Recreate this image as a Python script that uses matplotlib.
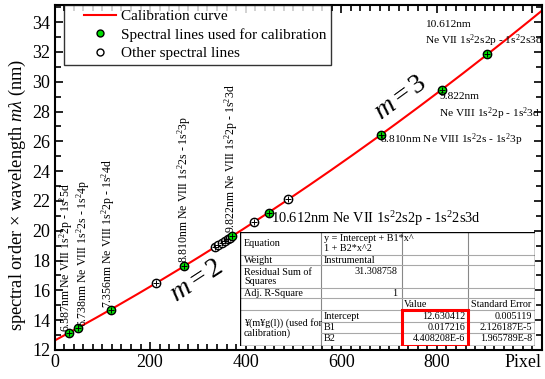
import numpy as np
import matplotlib
matplotlib.use("Agg")
import matplotlib.pyplot as plt
from matplotlib.lines import Line2D
from matplotlib.patches import Rectangle
from matplotlib.ticker import MultipleLocator
from matplotlib.legend_handler import HandlerLine2D
import matplotlib.transforms as mtransforms

plt.rcParams['font.family'] = ['Liberation Serif', 'DejaVu Serif']
plt.rcParams['mathtext.fontset'] = 'custom'
plt.rcParams['mathtext.rm'] = 'Liberation Serif'
plt.rcParams['mathtext.it'] = 'Liberation Serif:italic'

# ---------------- data ----------------
fit_intercept = 12.630412
fit_b1 = 0.017216
fit_b2 = 4.408208e-6

cal_x = [31.3, 48.5, 117.4, 271.0, 372.0, 447.8, 682.3, 809.9, 905.6]
cal_y = [13.174, 13.476, 14.712, 17.620, 19.644, 21.224, 26.430, 29.466, 31.836]

other_x = [212, 336, 343, 350, 356, 362, 367, 418, 489]
other_y = [16.48, 18.91, 19.05, 19.20, 19.32, 19.44, 19.54, 20.60, 22.10]

x_ticks = [0, 200, 400, 600, 800, 1000]
x_ticklabels = ['0', '200', '400', '600', '800', '']
x_axis_name = 'Pixel'
y_ticks = list(range(12, 35, 2))

vert_labels = [
    ("6.587nm Ne VIII 1s$^2$2p - 1s$^2$5d", 25.5, 13.23),
    ("6.738nm Ne VIII 1s$^2$2s - 1s$^2$4p", 59.5, 13.56),
    ("7.356nm Ne VIII 1s$^2$2p - 1s$^2$4d", 113, 14.82),
    ("8.810nm Ne VIII 1s$^2$2s - 1s$^2$3p", 271, 17.84),
    ("9.822nm Ne VIII 1s$^2$2p - 1s$^2$3d", 368.7, 19.85),
]
m2_label = ("10.612nm Ne VII 1s$^2$2s2p - 1s$^2$2s3d", 452, 20.83)
m3_labels = [
    ("8.810nm Ne VIII 1s$^2$2s - 1s$^2$3p", 680, 26.09),
    ("9.822nm\nNe VIII 1s$^2$2p - 1s$^2$3d", 805, 28.31),
    ("10.612nm\nNe VII 1s$^2$2s2p - 1s$^2$2s3d", 776, 33.17),
]

W, H = 545, 379
fig = plt.figure(figsize=(W / 100, H / 100), dpi=100)
L, R, T, B = 54.5, 542, 5, 350
ax = fig.add_axes([L / W, 1 - B / H, (R - L) / W, (B - T) / H])

xmax = 1020
ax.set_xlim(0, xmax)
ax.set_ylim(12, 35.15)

xc = np.linspace(0, xmax, 400)
yc = fit_intercept + fit_b1 * xc + fit_b2 * xc ** 2
ax.plot(xc, yc, color='#ff0000', lw=1.5, zorder=2)

ax.plot(other_x, other_y, 'o', ms=6, mfc='white', mec='black', mew=1.0, zorder=3)
ax.plot(other_x, other_y, '+', ms=5, color='black', mew=0.7, zorder=4)
ax.plot(cal_x, cal_y, 'o', ms=6, mfc='#00dd00', mec='black', mew=1.0, zorder=5)
ax.plot(cal_x, cal_y, '+', ms=5, color='black', mew=0.7, zorder=6)

for txt, x, y in vert_labels:
    ax.text(x, y, txt, rotation=90, ha='center', va='bottom', fontsize=8.5, zorder=7)
ax.text(m2_label[1], m2_label[2], m2_label[0], ha='left', va='center', fontsize=10.4, zorder=7)
for txt, x, y in m3_labels:
    ax.text(x, y, txt, ha='left', va='center', fontsize=8.2, linespacing=1.35, zorder=7)

ax.text(298, 16.6, r'$m = 2$', rotation=33, ha='center', va='center', fontsize=20)
ax.text(725, 28.9, r'$m = 3$', rotation=36, ha='center', va='center', fontsize=20)

ax.set_xticks(x_ticks)
ax.set_xticklabels(x_ticklabels)
ax.set_yticks(y_ticks)
ax.xaxis.set_minor_locator(MultipleLocator(20))
ax.yaxis.set_minor_locator(MultipleLocator(1))
ax.tick_params(which='both', direction='in', top=True, right=True, width=1.2, labelsize=13, pad=3)
ax.tick_params(which='major', length=6)
ax.tick_params(which='minor', length=4)
for s in ax.spines.values():
    s.set_linewidth(1.5)

trans = mtransforms.blended_transform_factory(ax.transAxes, ax.transAxes)
ax.text(0.998, -0.012, x_axis_name, transform=trans, ha='right', va='top', fontsize=13)

ax.set_ylabel(r'spectral order $\times$ wavelength $m\lambda$ (nm)', fontsize=13.2)
ax.yaxis.set_label_coords(-0.055, 0.45)


class ShiftedHandler(HandlerLine2D):
    def create_artists(self, legend, orig_handle, xdescent, ydescent, width, height, fontsize, trans):
        shift = width * 0.32
        return super().create_artists(legend, orig_handle, xdescent - shift, ydescent,
                                      width - shift, height, fontsize, trans)


handles = [
    Line2D([], [], color='#ff0000', lw=1.5),
    Line2D([], [], ls='none', marker='o', ms=5, mfc='#00dd00', mec='black', mew=1.0),
    Line2D([], [], ls='none', marker='o', ms=5, mfc='white', mec='black', mew=1.0),
]
labels = ['Calibration curve', 'Spectral lines used for calibration', 'Other spectral lines']
leg = ax.legend(handles, labels, loc='upper left', bbox_to_anchor=((64 - L) / (R - L), 1.0),
                fontsize=11, frameon=True, fancybox=False, edgecolor='black',
                borderaxespad=0, handlelength=3.1, handletextpad=0.3, labelspacing=0.3,
                borderpad=0.3, handler_map={Line2D: ShiftedHandler()})
leg.get_frame().set_linewidth(1.0)

# ---------------- table ----------------
tx0, tx1, ty0, ty1 = 240, 535, 231.7, 346
tab = fig.add_axes([tx0 / W, 1 - ty1 / H, (tx1 - tx0) / W, (ty1 - ty0) / H])
tab.set_xlim(tx0, tx1)
tab.set_ylim(ty1, ty0)
tab.axis('off')
tab.add_patch(Rectangle((tx0, ty0), tx1 - tx0, ty1 - ty0, facecolor='white', edgecolor='none', zorder=0))
gc = '#a8a8a8'
cols = [320.7, 401.7, 468.3]
for c in cols:
    tab.plot([c, c], [ty0, ty1], color='#888888', lw=0.8)
for r in [255, 265, 288.3, 298.3, 310]:
    tab.plot([tx0, tx1], [r, r], color=gc, lw=0.8)
for r in [321.7, 332.7]:
    tab.plot([cols[0], tx1], [r, r], color=gc, lw=0.8)
tab.add_patch(Rectangle((tx0, ty0), tx1 - tx0, ty1 - ty0, facecolor='none', edgecolor='black', lw=1.0, zorder=5))
tab.add_patch(Rectangle((401.7, 310), 468.3 - 401.7, 346 - 310, facecolor='none', edgecolor='#ff0000', lw=2.2, zorder=6))

tfs = 7.3
def t(x, y, s, ha='left'):
    tab.text(x, y, s, ha=ha, va='center', fontsize=tfs, linespacing=1.05)

t(244, 243.5, 'Equation')
t(324, 243.5, 'y = Intercept + B1*x^\n1 + B2*x^2')
t(244, 260.3, 'Weight')
t(324, 260.3, 'Instrumental')
t(244, 277, 'Residual Sum of\nSquares')
t(397, 271.7, '31.308758', ha='right')
t(244, 293.3, 'Adj. R-Square')
t(397, 293.3, '1', ha='right')
t(404, 304.3, 'Value')
t(471, 304.3, 'Standard Error')
t(244, 328, '¥(m¥g(l)) (used for\ncalibration)')
param_names = ['Intercept', 'B1', 'B2']
param_vals = ['12.630412', '0.017216', '4.408208E-6']
param_errs = ['0.005119', '2.126187E-5', '1.965789E-8']
for i, yy in enumerate([316.2, 327.3, 338.5]):
    t(324, yy, param_names[i])
    t(465, yy, param_vals[i], ha='right')
    t(532, yy, param_errs[i], ha='right')

fig.savefig('out.png', dpi=100)
